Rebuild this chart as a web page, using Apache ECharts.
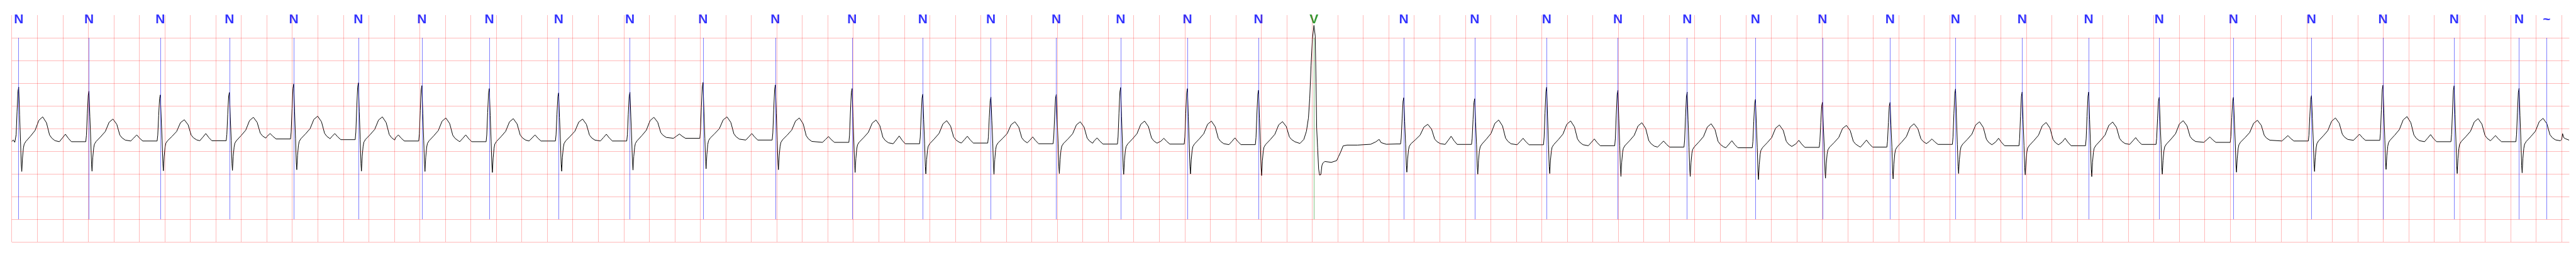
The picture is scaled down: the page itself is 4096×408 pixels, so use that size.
<!DOCTYPE html>
<html><head><meta charset="utf-8">
<script src="https://cdn.jsdelivr.net/npm/echarts@6/dist/echarts.min.js"></script>
<style>html,body{margin:0;padding:0;background:#fff}#c{width:4096px;height:408px}</style>
</head><body><div id="c"></div>
<script>
// ---- annotations (time in s) ----
const annTimes = [0.0547, 0.6059, 1.1654, 1.7072, 2.2117, 2.7189, 3.2172, 3.7459, 4.2893, 4.8488,
  5.4220, 5.9895, 6.5909, 7.1456, 7.6801, 8.1927, 8.6975, 9.2213, 9.7791, 10.2133,
  10.9183, 11.4746, 12.0389, 12.5976, 13.1410, 13.6764, 14.2018, 14.7323, 15.2459, 15.7684,
  16.2903, 16.8434, 17.4254, 18.0376, 18.5987, 19.1566, 19.6660, 19.8820];
const annSymbols = ['N','N','N','N','N','N','N','N','N','N','N','N','N','N','N','N','N','N','N','V',
  'N','N','N','N','N','N','N','N','N','N','N','N','N','N','N','N','N','~'];

// ---- per-beat values (mV) ----
const rPeak = [0.914, 0.824, 0.741, 0.795, 0.980, 1.007, 0.947, 0.881, 0.786, 0.800, 1.016, 0.962, 0.881, 0.756, 0.696, 0.753, 0.905, 0.881, 0.845, null,
  0.681, 0.657, 0.911, 0.845, 0.806, 0.642, 0.576, 0.576, 0.875, 0.806, 0.806, 0.687, 0.687, 0.726, 0.956, 0.944, 0.890];
const sTrough = [-0.947, -0.941, -0.932, -0.923, -0.908, -0.938, -0.947, -0.968, -0.941, -0.917, -0.887, -0.908, -0.968, -1.0, -1.013, -0.992, -1.013, -1.0, -1.036, null,
  -0.962, -1.007, -0.992, -1.057, -1.057, -1.126, -1.096, -1.111, -0.992, -1.021, -1.06, -1.007, -0.962, -0.947, -0.902, -0.992, -0.977];
const tPeak = [0.257, 0.209, 0.194, 0.248, 0.272, 0.257, 0.233, 0.218, 0.209, 0.248, 0.257, 0.233, 0.188, 0.173, 0.149, 0.149, 0.164, 0.164, 0.152, null,
  0.093, 0.188, 0.167, 0.128, 0.105, 0.078, 0.069, 0.105, 0.149, 0.134, 0.143, 0.173, 0.182, 0.233, 0.263, 0.218, 0.224];
const baseline = [-0.29, -0.29, -0.275, -0.269, -0.23, -0.245, -0.275, -0.29, -0.275, -0.275, -0.215, -0.254, -0.305, -0.335, -0.32, -0.335, -0.343, -0.343, -0.355, -0.31,
  -0.34, -0.35, -0.358, -0.379, -0.409, -0.424, -0.415, -0.409, -0.35, -0.379, -0.379, -0.35, -0.305, -0.275, -0.26, -0.29, -0.29];
const pPeak = [null, -0.125, -0.14, -0.11, -0.11, -0.11, -0.14, -0.14, -0.14, -0.125, -0.12, -0.11, -0.176, -0.164, -0.17, -0.185, -0.206, -0.215, -0.206, null,
  null, -0.17, -0.215, -0.23, -0.275, -0.269, -0.26, -0.254, -0.23, -0.215, -0.215, -0.2, -0.185, -0.155, -0.125, -0.134, -0.155];
const tailBaseline = -0.27;

// explicit stretches of trace [s, mV]
const startTrace = [[0, -0.284], [0.013, -0.254], [0.024, -0.305]];
const vBeatTrace = [[10.1036,-0.329],[10.1345,-0.239],[10.1548,-0.058],[10.1704,0.231],[10.1806,0.665],[10.1908,1.387],
  [10.2013,1.966],[10.2136,2.273],[10.2238,2.038],[10.2299,1.026],[10.2350,0.014],[10.2423,-0.419],[10.2503,-0.889],
  [10.2576,-1.027],[10.2678,-1.016],[10.2761,-0.817],[10.2833,-0.762],[10.2986,-0.727],[10.3501,-0.745],[10.3912,-0.708],
  [10.4065,-0.618],[10.4218,-0.527],[10.4425,-0.383],[10.4733,-0.365],[10.5555,-0.365],[10.6582,-0.347],[10.6993,-0.293],
  [10.7248,-0.239],[10.7403,-0.31],[10.7811,-0.347],[10.8635,-0.34]];
const endTrace = [[19.99,-0.27],[20.0,-0.24],[20.007,-0.112],[20.016,-0.2],[20.03,-0.225],[20.058,-0.256]];

// beat morphology: [offset s, part, fraction]
const qrsShape = [[-0.025,'r',0],[-0.020,'r',0.13],[-0.013,'r',0.55],[-0.006,'r',0.92],[0,'r',1],[0.007,'r',0.49],
  [0.0143,'r',0],[0.020,'s',0.76],[0.024,'s',1],[0.030,'s',0.53],[0.037,'s',0.21],[0.043,'s',0.08]];
const tShape = [[0.056,0.01],[0.092,0.22],[0.128,0.45],[0.158,0.86],[0.188,1],[0.218,0.76],[0.242,0.27],[0.26,0.14],[0.285,0.04]];
const pShape = [[-0.232,0],[-0.208,0.5],[-0.185,1],[-0.162,0.45],[-0.138,0]];

// axes
const xMax = 20.06, yMin = -2.5, yMax = 2.5;
const xGridTicks = []; for (let k = 0; k <= 100; k++) xGridTicks.push(+(k * 0.2).toFixed(1));
const yGridTicks = [-2.5, -2, -1.5, -1, -0.5, 0, 0.5, 1, 1.5, 2];
const annLineTop = 2.0, annLineBottom = -2.0, labelLevel = 2.4;

// ---- build trace ----
const trace = [];
function push(t, v) { if (!trace.length || t > trace[trace.length - 1][0] + 1e-6) trace.push([t, v]); }
startTrace.forEach(p => push(p[0], p[1]));
const nBeats = rPeak.length;
for (let i = 0; i < nBeats; i++) {
  if (annSymbols[i] === 'V') { vBeatTrace.forEach(p => push(p[0], p[1])); continue; }
  const R = annTimes[i], b = baseline[i];
  const bn = i + 1 < nBeats ? baseline[i + 1] : tailBaseline;
  if (pPeak[i] != null) pShape.forEach(([o, f]) => push(R + o, b + f * (pPeak[i] - b)));
  qrsShape.forEach(([o, k, f]) => push(R + o, b + f * ((k === 'r' ? rPeak[i] : sTrough[i]) - b)));
  tShape.forEach(([o, f]) => { const base = o <= 0.188 ? b : bn; push(R + o, base + f * (tPeak[i] - base)); });
}
endTrace.forEach(p => push(p[0], p[1]));

const symColor = { 'N': '#0000ff', 'V': '#008000', '~': '#0000ff' };
const symLine = { 'N': 'rgba(0,0,255,0.5)', 'V': 'rgba(0,128,0,0.5)', '~': 'rgba(0,0,255,0.5)' };

const gridLineStyle = { color: 'rgba(255,0,0,0.27)', width: 1, type: 'solid' };
const chart = echarts.init(document.getElementById('c'), null, { renderer: 'canvas' });
chart.setOption({
  animation: false,
  backgroundColor: '#ffffff',
  grid: { left: 18.66, right: 10.6, top: 24.0, bottom: 23.9, containLabel: false },
  xAxis: { type: 'value', min: 0, max: xMax, axisLine: { show: false }, axisTick: { show: false }, axisLabel: { show: false }, splitLine: { show: false } },
  yAxis: { type: 'value', min: yMin, max: yMax, axisLine: { show: false }, axisTick: { show: false }, axisLabel: { show: false }, splitLine: { show: false } },
  series: [
    {
      type: 'line', data: [], z: 1, silent: true,
      markLine: {
        silent: true, symbol: 'none', animation: false, label: { show: false },
        lineStyle: gridLineStyle,
        data: xGridTicks.map(x => ({ xAxis: x, lineStyle: gridLineStyle })).concat(yGridTicks.map(y => ({ yAxis: y, lineStyle: gridLineStyle })))
      }
    },
    {
      type: 'line', data: [], z: 2, silent: true,
      markLine: {
        silent: true, symbol: 'none', animation: false, label: { show: false },
        data: annTimes.map((t, i) => [
          { coord: [t, annLineTop], lineStyle: { color: symLine[annSymbols[i]], width: 1, type: 'solid' } },
          { coord: [t, annLineBottom] }
        ])
      }
    },
    {
      type: 'line', data: trace, z: 3, showSymbol: false, symbol: 'none', silent: true,
      lineStyle: { color: '#000000', width: 1 }
    },
    {
      type: 'scatter', z: 4, silent: true, symbolSize: 1,
      itemStyle: { color: 'rgba(0,0,0,0)' },
      data: annTimes.map((t, i) => ({
        value: [t, labelLevel, annSymbols[i]],
        label: { color: symColor[annSymbols[i]] }
      })),
      label: {
        show: true, position: 'inside', formatter: p => p.data.value[2],
        fontFamily: 'Liberation Sans', fontWeight: 'bold', fontSize: 21
      }
    }
  ]
});
</script></body></html>
